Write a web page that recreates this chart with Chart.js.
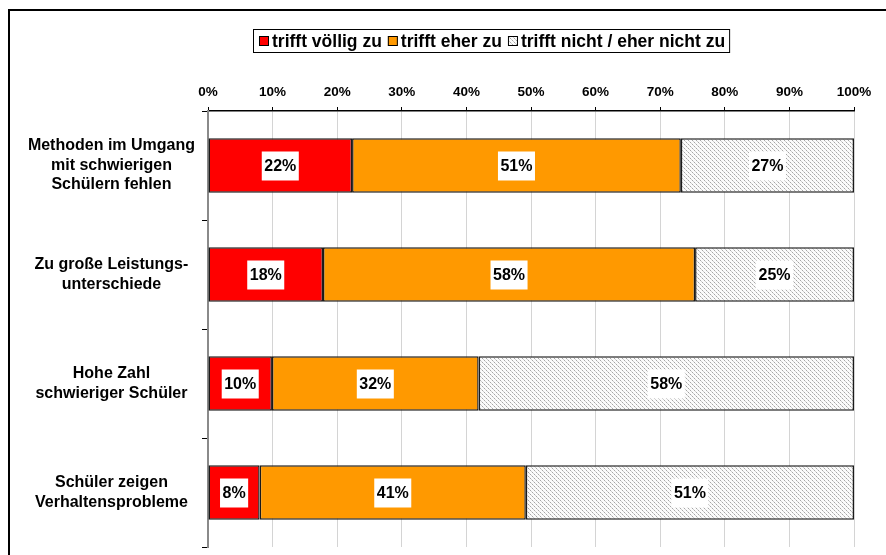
<!DOCTYPE html>
<html>
<head>
<meta charset="utf-8">
<script src="https://cdn.jsdelivr.net/npm/chart.js@4.4.1/dist/chart.umd.min.js"></script>
<style>
    body { margin: 0; background: #fff; }
    #wrap { position: relative; width: 886px; height: 555px; }
</style>
</head>
<body>
<div id="wrap"><canvas id="surveyChart" width="886" height="555"></canvas></div>
<script>
const categories = [
    ['Methoden im Umgang', 'mit schwierigen', 'Schülern fehlen'],
    ['Zu große Leistungs-', 'unterschiede'],
    ['Hohe Zahl', 'schwieriger Schüler'],
    ['Schüler zeigen', 'Verhaltensprobleme']
];
const seriesNames = ['trifft völlig zu', 'trifft eher zu', 'trifft nicht / eher nicht zu'];
const fullyAgree = [22.3, 17.8, 9.9, 8.0];
const ratherAgree = [50.9, 57.6, 32.0, 41.2];
const disagree = [26.8, 24.6, 58.1, 50.8];
const pctLabels = [
    ['22%', '18%', '10%', '8%'],
    ['51%', '58%', '32%', '41%'],
    ['27%', '25%', '58%', '51%']
];
const xTicks = [0, 10, 20, 30, 40, 50, 60, 70, 80, 90, 100];

const FONT = '"Liberation Sans", Arial, sans-serif';

// dotted grey hatch like the old excel fill
function makeHatch() {
    const c = document.createElement('canvas');
    c.width = 4; c.height = 4;
    const g = c.getContext('2d');
    g.fillStyle = '#fbfbfb';
    g.fillRect(0, 0, 4, 4);
    for (let i = 0; i < 4; i++) {
        g.fillStyle = i % 2 ? '#cfcfcf' : '#a6a6a6';
        g.fillRect(i, i, 1, 1);
    }
    return g.createPattern(c, 'repeat');
}
const hatch = makeHatch();
const colors = ['#ff0000', '#ff9900', hatch];

const framePlugin = {
    id: 'frame',
    afterDraw(chart) {
        const ctx = chart.ctx;
        ctx.save();
        ctx.strokeStyle = '#000';
        ctx.lineWidth = 2;
        ctx.beginPath();
        ctx.moveTo(9, 560);
        ctx.lineTo(9, 10);
        ctx.lineTo(890, 10);
        ctx.stroke();
        ctx.restore();
    }
};

const legendPlugin = {
    id: 'boxLegend',
    afterDraw(chart) {
        const ctx = chart.ctx;
        ctx.save();
        ctx.font = 'bold 17.5px ' + FONT;
        ctx.textBaseline = 'middle';
        let x = 259;
        const cy = 41;
        chart.data.datasets.forEach((ds, i) => {
            ctx.fillStyle = ds.backgroundColor;
            ctx.fillRect(x, cy - 5, 10, 10);
            ctx.strokeStyle = '#000';
            ctx.lineWidth = 1;
            ctx.strokeRect(x + 0.5, cy - 4.5, 9, 9);
            ctx.fillStyle = '#000';
            ctx.fillText(ds.label, x + 13, cy + 1);
            x += 13 + ctx.measureText(ds.label).width + 6;
        });
        ctx.strokeStyle = '#000';
        ctx.lineWidth = 1;
        ctx.strokeRect(253.5, 29.5, x - 6 + 4 - 253, 23);
        ctx.restore();
    }
};

const valueLabelPlugin = {
    id: 'valueLabels',
    afterDatasetsDraw(chart) {
        const ctx = chart.ctx;
        ctx.save();
        ctx.font = 'bold 16px ' + FONT;
        ctx.textAlign = 'center';
        ctx.textBaseline = 'middle';
        chart.data.datasets.forEach((ds, i) => {
            chart.getDatasetMeta(i).data.forEach((bar, j) => {
                const txt = pctLabels[i][j];
                const cx = (bar.x + bar.base) / 2;
                const w = ctx.measureText(txt).width + 5;
                ctx.fillStyle = '#fff';
                ctx.fillRect(cx - w / 2, bar.y - 14, w, 29);
                ctx.fillStyle = '#000';
                ctx.fillText(txt, cx, bar.y + 1);
            });
        });
        ctx.restore();
    }
};

const datasets = [fullyAgree, ratherAgree, disagree].map((vals, i) => ({
    label: seriesNames[i],
    data: vals,
    backgroundColor: colors[i],
    borderColor: '#1a1a1a',
    borderWidth: 1.5,
    borderSkipped: false,
    categoryPercentage: 1,
    barPercentage: 0.5
}));

new Chart(document.getElementById('surveyChart'), {
    type: 'bar',
    data: { labels: categories, datasets: datasets },
    options: {
        indexAxis: 'y',
        responsive: false,
        animation: false,
        layout: { padding: { left: 10, right: 32, top: 60, bottom: 8 } },
        plugins: {
            legend: { display: false },
            tooltip: { enabled: false }
        },
        scales: {
            x: {
                position: 'top',
                stacked: true,
                min: 0,
                max: 100,
                afterFit: (scale) => { scale.height = 51; },
                afterBuildTicks: (scale) => { scale.ticks = xTicks.map(v => ({ value: v })); },
                ticks: {
                    color: '#000',
                    font: { family: FONT, size: 13.5, weight: 'bold' },
                    padding: 7,
                    callback: (v) => v + '%'
                },
                grid: { color: '#d4d4d4', lineWidth: 1, tickLength: 4, tickColor: '#000' },
                border: { color: '#000', width: 1.5 }
            },
            y: {
                stacked: true,
                afterFit: (scale) => {
                    scale.width = 198;
                    scale.paddingTop = 0;
                    scale.paddingBottom = 0;
                },
                ticks: {
                    color: '#000',
                    crossAlign: 'center',
                    padding: 7,
                    font: { family: FONT, size: 16, weight: 'bold', lineHeight: 1.22 }
                },
                grid: { drawOnChartArea: false, drawTicks: true, tickLength: 6, color: '#000', offset: true },
                border: { color: '#8a8a8a', width: 2 }
            }
        }
    },
    plugins: [framePlugin, legendPlugin, valueLabelPlugin]
});
</script>
</body>
</html>
